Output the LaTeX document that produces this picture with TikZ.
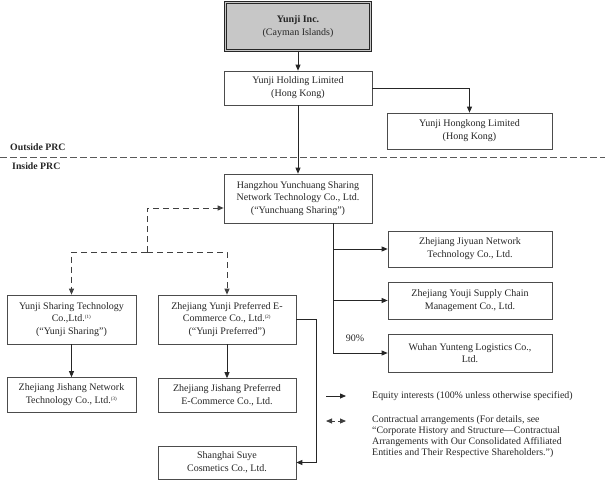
\documentclass[tikz,border=0pt]{standalone}
\usepackage{fontspec}
\setmainfont{Liberation Serif}
\usetikzlibrary{arrows.meta}

\begin{document}
\begin{tikzpicture}[x=1pt, y=-1pt,
    every node/.style={font=\fontsize{10}{12.8}\selectfont, text=black!85},
    entity/.style={draw=black!70, line width=0.7pt, fill=white, align=center, inner sep=0pt},
    equity/.style={draw=black!85, line width=0.8pt, -{Triangle[length=6pt,width=5pt]}},
    contract/.style={draw=black!75, line width=0.9pt, dash pattern=on 6pt off 4pt, -{Triangle[length=6pt,width=5pt]}},
    border/.style={draw=black!65, line width=0.9pt, dash pattern=on 6.5pt off 3.5pt},
    region/.style={font=\bfseries\fontsize{9.8}{11}\selectfont, anchor=west, inner sep=0pt},
    legend/.style={anchor=west, align=left, inner sep=0pt, font=\fontsize{9.9}{11}\selectfont}]
    \useasboundingbox (0,0) rectangle (605,482);

    % Outside PRC
    \node[entity, fill=black!22, draw=black!85, double=black!22, double distance=1.6pt,
          minimum width=145pt, minimum height=48pt] (inc) at (298,26.5)
        {\textbf{Yunji Inc.}\\(Cayman Islands)};
    \node[entity, minimum width=148pt, minimum height=34pt] (holding) at (298,88)
        {Yunji Holding Limited\\(Hong Kong)};
    \node[entity, minimum width=165pt, minimum height=36pt] (hk) at (469.5,131)
        {Yunji Hongkong Limited\\(Hong Kong)};

    % PRC border
    \draw[border] (0,157) -- (605,157);
    \node[region] (outside) at (10,147) {Outside PRC};
    \node[region] (inside) at (12,166) {Inside PRC};

    % Inside PRC
    \node[entity, minimum width=148pt, minimum height=49pt] (hangzhou) at (298,198.5)
        {Hangzhou Yunchuang Sharing\\Network Technology Co., Ltd.\\(``Yunchuang Sharing'')};
    \node[entity, minimum width=164pt, minimum height=36pt] (jiyuan) at (470,249)
        {Zhejiang Jiyuan Network\\Technology Co., Ltd.};
    \node[entity, minimum width=164pt, minimum height=37pt] (youji) at (470,300.5)
        {Zhejiang Youji Supply Chain\\Management Co., Ltd.};
    \node[entity, minimum width=164pt, minimum height=38pt] (wuhan) at (470,353)
        {Wuhan Yunteng Logistics Co.,\\Ltd.};
    \node[entity, minimum width=129pt, minimum height=49pt] (yjsharing) at (71.5,319.5)
        {Yunji Sharing Technology\\Co.,Ltd.\textsuperscript{\tiny(1)}\\(``Yunji Sharing'')};
    \node[entity, minimum width=129pt, minimum height=35pt] (jsnetwork) at (71.5,395)
        {Zhejiang Jishang Network\\Technology Co., Ltd.\textsuperscript{\tiny(3)}};
    \node[entity, minimum width=138pt, minimum height=49pt] (ypreferred) at (227,319.5)
        {Zhejiang Yunji Preferred E-\\Commerce Co., Ltd.\textsuperscript{\tiny(2)}\\(``Yunji Preferred'')};
    \node[entity, minimum width=138pt, minimum height=34pt] (jspreferred) at (227,395.5)
        {Zhejiang Jishang Preferred\\E-Commerce Co., Ltd.};
    \node[entity, minimum width=138pt, minimum height=33pt] (suye) at (227,462.5)
        {Shanghai Suye\\Cosmetics Co., Ltd.};

    % Equity interests
    \draw[equity] (inc) -- (holding);
    \draw[equity] (holding.east) -| (hk.north);
    \draw[equity] (holding) -- (hangzhou);
    \coordinate (trunk) at (333,223);
    \draw[equity, -] (trunk) -- (trunk |- wuhan.west);
    \draw[equity] (trunk |- jiyuan.west) -- (jiyuan.west);
    \draw[equity] (trunk |- youji.west) -- (youji.west);
    \draw[equity] (trunk |- wuhan.west) -- (wuhan.west);
    \node (pct) at (355,338) {90\%};
    \draw[equity] (yjsharing) -- (jsnetwork);
    \draw[equity] (ypreferred) -- (jspreferred);
    \draw[equity] (ypreferred.east) -- ++(20,0) |- (suye.east);

    % Contractual arrangements
    \coordinate (split) at (147,252);
    \draw[contract] (split) |- ([yshift=-9.5pt]hangzhou.west);
    \draw[contract] (split) -| (yjsharing.north);
    \draw[contract] (split) -| (ypreferred.north);

    % Legend
    \coordinate (eqa) at (326,396);
    \coordinate (eqb) at (346,396);
    \draw[equity] (eqa) -- (eqb);
    \node[legend] (eqtext) at (372,396) {Equity interests (100\% unless otherwise specified)};
    \coordinate (cta) at (326,421);
    \coordinate (ctb) at (346,421);
    \draw[contract, dash pattern=on 3pt off 3pt, {Triangle[length=6pt,width=5pt]}-{Triangle[length=6pt,width=5pt]}] (cta) -- (ctb);
    \node[legend, anchor=north west] (cttext) at (372,415)
        {Contractual arrangements (For details, see\\``Corporate History and Structure---Contractual\\Arrangements with Our Consolidated Affiliated\\Entities and Their Respective Shareholders.'')};
\end{tikzpicture}
\end{document}
